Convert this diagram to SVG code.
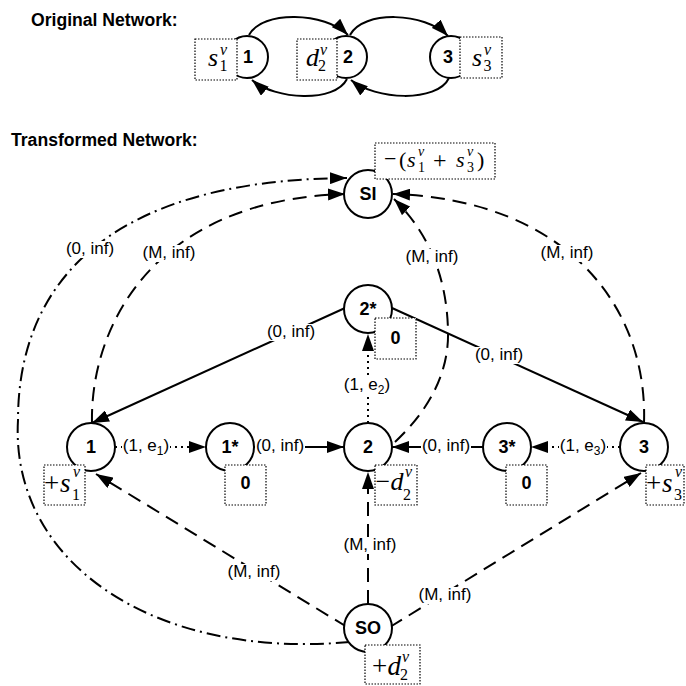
<svg xmlns="http://www.w3.org/2000/svg" width="686" height="686" viewBox="0 0 686 686">
<style>
.title{font-family:"Liberation Sans",Arial,sans-serif;font-weight:bold;font-size:17.6px;fill:#000}
.nl{font-family:"Liberation Sans",Arial,sans-serif;font-weight:bold;font-size:18px;text-anchor:middle;fill:#000}
.el{font-family:"Liberation Sans",Arial,sans-serif;font-size:17px;text-anchor:middle;fill:#000}
.bg{fill:#fff;stroke:none}
.m{font-family:"Liberation Serif","Times New Roman",serif;fill:#000}
.mi{font-family:"Liberation Serif","Times New Roman",serif;font-style:italic;fill:#000}
.c{fill:#fff;stroke:#000;stroke-width:2}
.b{fill:#fff;stroke:#000;stroke-width:1.2;stroke-dasharray:1.5 1.5}
.e{fill:none;stroke:#000;stroke-width:2}
.arr{marker-end:url(#ah)}
.dash{stroke-dasharray:14 8}
.dd{stroke-dasharray:14 5 2 5}
.dot{stroke-dasharray:2 4}
</style>
<defs>
<marker id="ah" markerWidth="17" markerHeight="12" refX="17" refY="6" orient="auto" markerUnits="userSpaceOnUse">
<path d="M0,0 L17,6 L0,12 z" fill="#000" stroke="none"/>
</marker>
</defs>
<rect x="0" y="0" width="686" height="686" fill="#fff"/>
<text class="title" x="31" y="26">Original Network:</text>
<text class="title" x="11" y="146">Transformed Network:</text>

<g id="connectors">
<path class="e arr" d="M249 35 C262 10 325 12 348 35"/>
<path class="e arr" d="M350 35 C363 10 425 12 448 36"/>
<path class="e arr" d="M347 79 C335 103 275 100 252 80"/>
<path class="e arr" d="M449 78 C437 103 375 100 351 80"/>

<path class="e dot arr" d="M115 447 H206"/>
<path class="e arr" d="M254 447 H344"/>
<path class="e arr" d="M483 447 H392"/>
<path class="e dot arr" d="M620 447 H531"/>
<path class="e dot arr" d="M368 423 V334"/>
<path class="e arr" d="M345 308 L92 423"/>
<path class="e arr" d="M392 308 L643 422"/>
<path class="e dash arr" d="M92 423 C90 330 150 200 345 194"/>
<path class="e dash arr" d="M395 442 Q450 390 448 330 Q446 250 394 199"/>
<path class="e dash arr" d="M644 423 C648 310 570 200 393 194"/>
<path class="e dd arr" d="M350 642 C150 660 10 560 18 420 C18 290 100 180 347 178"/>
<path class="e dash arr" d="M347 627 L96 474"/>
<path class="e dash arr" d="M368 604 V472"/>
<path class="e dash arr" d="M390 627 L641 473"/>

<rect class="bg" x="122" y="438" width="48" height="17"/>
<text class="el" x="146" y="451">(1, e<tspan font-size="12" dy="4">1</tspan><tspan dy="-4">)</tspan></text>
<rect class="bg" x="255" y="438" width="50" height="17"/>
<text class="el" x="280" y="451">(0, inf)</text>
<rect class="bg" x="421" y="438" width="50" height="17"/>
<text class="el" x="446" y="451">(0, inf)</text>
<rect class="bg" x="559" y="438" width="48" height="17"/>
<text class="el" x="583" y="451">(1, e<tspan font-size="12" dy="4">3</tspan><tspan dy="-4">)</tspan></text>
<rect class="bg" x="343" y="377" width="48" height="17"/>
<text class="el" x="367" y="390">(1, e<tspan font-size="12" dy="4">2</tspan><tspan dy="-4">)</tspan></text>
<rect class="bg" x="266" y="324" width="50" height="17"/>
<text class="el" x="291" y="337">(0, inf)</text>
<rect class="bg" x="474" y="347" width="50" height="17"/>
<text class="el" x="499" y="360">(0, inf)</text>
<rect class="bg" x="142" y="245" width="54" height="17"/>
<text class="el" x="169" y="258">(M, inf)</text>
<rect class="bg" x="405" y="249" width="54" height="17"/>
<text class="el" x="432" y="262">(M, inf)</text>
<rect class="bg" x="540" y="245" width="54" height="17"/>
<text class="el" x="567" y="258">(M, inf)</text>
<rect class="bg" x="65" y="241" width="50" height="17"/>
<text class="el" x="90" y="254">(0, inf)</text>
<rect class="bg" x="227" y="564" width="54" height="17"/>
<text class="el" x="254" y="577">(M, inf)</text>
<rect class="bg" x="343" y="537" width="54" height="17"/>
<text class="el" x="370" y="550">(M, inf)</text>
<rect class="bg" x="418" y="587" width="54" height="17"/>
<text class="el" x="445" y="600">(M, inf)</text>
</g>

<g id="o1">
<circle class="c" cx="247" cy="57" r="21"/>
<rect class="b" x="195" y="39" width="42" height="41"/>
<text class="nl" x="248" y="63" font-size="17">1</text>
<text class="mi" x="208" y="66" font-size="26">s</text>
<text class="mi" x="220" y="55" font-size="16">v</text>
<text class="m" x="219.5" y="71" font-size="16">1</text>
</g>
<g id="o2">
<circle class="c" cx="346" cy="57" r="21"/>
<rect class="b" x="297" y="39" width="40" height="41"/>
<text class="nl" x="348" y="63" font-size="17">2</text>
<text class="mi" x="306" y="66" font-size="26">d</text>
<text class="mi" x="320" y="55" font-size="16">v</text>
<text class="m" x="318" y="71" font-size="16">2</text>
</g>
<g id="o3">
<circle class="c" cx="451" cy="57" r="21"/>
<rect class="b" x="460" y="37" width="42" height="41"/>
<text class="nl" x="448" y="63" font-size="17">3</text>
<text class="mi" x="472" y="66" font-size="26">s</text>
<text class="mi" x="484" y="55" font-size="16">v</text>
<text class="m" x="483.5" y="71" font-size="16">3</text>
</g>

<g id="SI">
<circle class="c" cx="368" cy="194" r="24"/>
<rect class="b" x="375" y="143" width="120" height="36"/>
<text class="nl" x="368" y="200">SI</text>
<text class="m" x="384" y="166" font-size="22">−</text>
<text class="m" x="399" y="167" font-size="22">(</text>
<text class="mi" x="407" y="167" font-size="22">s</text>
<text class="mi" x="418" y="156" font-size="14">v</text>
<text class="m" x="418" y="172" font-size="14">1</text>
<text class="m" x="433" y="168" font-size="24">+</text>
<text class="mi" x="456" y="167" font-size="22">s</text>
<text class="mi" x="467" y="156" font-size="14">v</text>
<text class="m" x="467" y="172" font-size="14">3</text>
<text class="m" x="477" y="167" font-size="22">)</text>
</g>
<g id="n2s">
<circle class="c" cx="368" cy="309" r="24"/>
<rect class="b" x="375" y="318" width="41" height="41"/>
<text class="nl" x="368" y="315">2*</text>
<text class="nl" x="395.5" y="344" font-size="17">0</text>
</g>
<g id="n1">
<circle class="c" cx="91" cy="447" r="24"/>
<rect class="b" x="44" y="465" width="41" height="40"/>
<text class="nl" x="91" y="453">1</text>
<text class="m" x="44" y="492" font-size="27">+</text>
<text class="mi" x="60" y="492" font-size="27">s</text>
<text class="mi" x="73" y="477" font-size="16">v</text>
<text class="m" x="72" y="500" font-size="16">1</text>
</g>
<g id="n1s">
<circle class="c" cx="230" cy="447" r="24"/>
<rect class="b" x="225" y="465" width="41" height="40"/>
<text class="nl" x="230" y="453">1*</text>
<text class="nl" x="245.5" y="489" font-size="17">0</text>
</g>
<g id="n2">
<circle class="c" cx="368" cy="447" r="24"/>
<rect class="b" x="375" y="465" width="42" height="40"/>
<text class="nl" x="368" y="453">2</text>
<text class="m" x="375.5" y="490" font-size="26">−</text>
<text class="mi" x="390.5" y="490" font-size="26">d</text>
<text class="mi" x="405" y="477" font-size="16">v</text>
<text class="m" x="403" y="500" font-size="16">2</text>
</g>
<g id="n3s">
<circle class="c" cx="507" cy="447" r="24"/>
<rect class="b" x="506" y="465" width="41" height="40"/>
<text class="nl" x="507" y="453">3*</text>
<text class="nl" x="526.5" y="489" font-size="17">0</text>
</g>
<g id="n3">
<circle class="c" cx="644" cy="447" r="24"/>
<rect class="b" x="646" y="465" width="38" height="40"/>
<text class="nl" x="644" y="453">3</text>
<text class="m" x="646" y="492" font-size="27">+</text>
<text class="mi" x="662" y="492" font-size="27">s</text>
<text class="mi" x="675" y="477" font-size="16">v</text>
<text class="m" x="674" y="500" font-size="16">3</text>
</g>
<g id="SO">
<circle class="c" cx="368" cy="628" r="24"/>
<rect class="b" x="365" y="645" width="55" height="39"/>
<text class="nl" x="368" y="634">SO</text>
<text class="m" x="372" y="675" font-size="27">+</text>
<text class="mi" x="387.5" y="675" font-size="27">d</text>
<text class="mi" x="402" y="662" font-size="16">v</text>
<text class="m" x="400" y="680" font-size="16">2</text>
</g>
</svg>
